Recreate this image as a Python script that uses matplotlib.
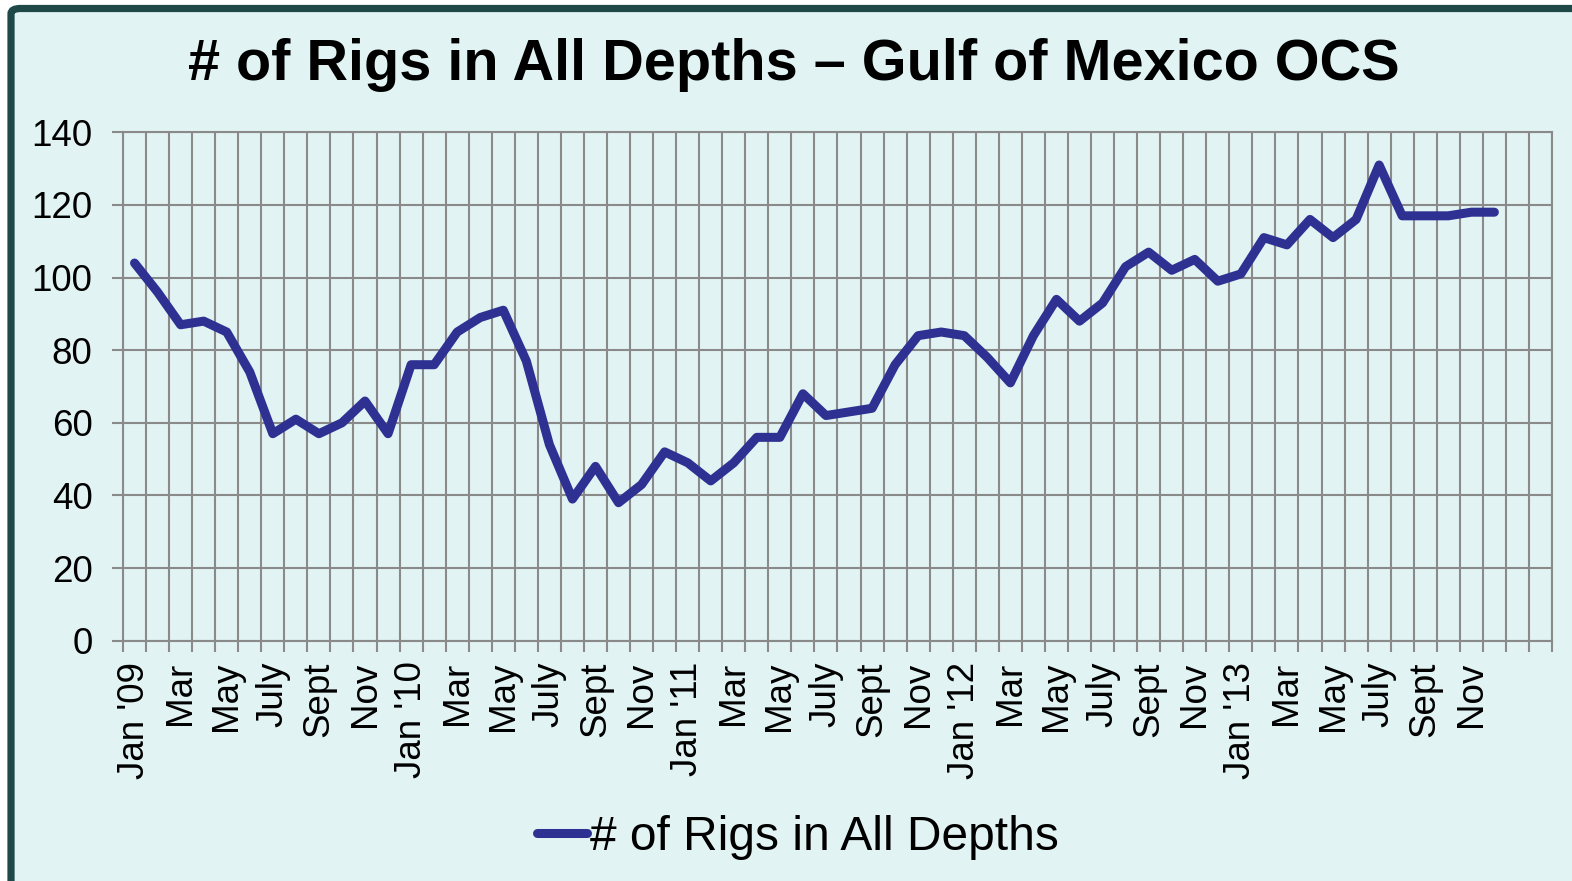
import matplotlib
matplotlib.use("Agg")
import matplotlib.pyplot as plt
from matplotlib.patches import FancyBboxPatch
import numpy as np

plt.rcParams['font.family'] = ['Liberation Sans', 'DejaVu Sans']

months = ["Jan '09", "Feb", "Mar", "Apr", "May", "June", "July", "Aug", "Sept", "Oct", "Nov", "Dec",
          "Jan '10", "Feb", "Mar", "Apr", "May", "June", "July", "Aug", "Sept", "Oct", "Nov", "Dec",
          "Jan '11", "Feb", "Mar", "Apr", "May", "June", "July", "Aug", "Sept", "Oct", "Nov", "Dec",
          "Jan '12", "Feb", "Mar", "Apr", "May", "June", "July", "Aug", "Sept", "Oct", "Nov", "Dec",
          "Jan '13", "Feb", "Mar", "Apr", "May", "June", "July", "Aug", "Sept", "Oct", "Nov", "Dec",
          "", ""]
rigs = [104, 96, 87, 88, 85, 74, 57, 61, 57, 60, 66, 57,
        76, 76, 85, 89, 91, 77, 54, 39, 48, 38, 43, 52,
        49, 44, 49, 56, 56, 68, 62, 63, 64, 76, 84, 85,
        84, 78, 71, 84, 94, 88, 93, 103, 107, 102, 105, 99,
        101, 111, 109, 116, 111, 116, 131, 117, 117, 117, 118, 118]
series_name = "# of Rigs in All Depths"
title = "# of Rigs in All Depths \u2013 Gulf of Mexico OCS"

W, H = 1572, 881
fig = plt.figure(figsize=(W / 100, H / 100), dpi=100)
fig.patch.set_facecolor('white')

bg = '#e2f3f3'
border = FancyBboxPatch((11 / W, -0.2), 1.2, 1.2 - 8.5 / H,
                        boxstyle="round,pad=0,rounding_size=0.006",
                        transform=fig.transFigure, facecolor=bg,
                        edgecolor='#1f4848', linewidth=5.2, zorder=-10)
fig.patches.append(border)

ax = fig.add_axes([123 / W, 1 - 640.7 / H, (1552 - 123) / W, (640.7 - 132.3) / H])
ax.set_facecolor('none')
ax.set_zorder(1)

n = len(months)
x = np.arange(len(rigs))
ax.plot(x, rigs, color='#2e3192', linewidth=6.5, solid_capstyle='round',
        solid_joinstyle='round', zorder=3, label=series_name)

ax.set_xlim(-0.5, n - 0.5)
ax.set_ylim(0, 140)
ax.set_yticks(np.arange(0, 141, 20))
grid_c = '#8a8a8a'
ax.yaxis.grid(True, color=grid_c, linewidth=1.5)
ax.set_xticks(np.arange(-0.5, n, 1.0), minor=True)
ax.xaxis.grid(True, which='minor', color=grid_c, linewidth=1.5)
ax.set_xticks(np.arange(0, n, 2))
ax.set_xticklabels([months[i] for i in range(0, n, 2)], rotation=90, fontsize=26.5)
ax.tick_params(axis='x', which='major', length=0, pad=15)
ax.tick_params(axis='x', which='minor', length=8, color=grid_c, width=1.5)
ax.tick_params(axis='y', length=8, color=grid_c, width=1.5, labelsize=26.5, pad=14)
ax.set_axisbelow(True)
for s in ax.spines.values():
    s.set_color(grid_c)
    s.set_linewidth(1.5)

fig.text(0.5048, 1 - 65 / H, title, ha='center', va='center', fontsize=41.5,
         fontweight='bold', color='black')

fig.legend(loc='center', bbox_to_anchor=(0.5075, 1 - 837 / H), frameon=False,
           fontsize=34.5, handlelength=1.05, handletextpad=0.05, borderaxespad=0)

fig.savefig('out.png', dpi=100, facecolor=fig.get_facecolor())
